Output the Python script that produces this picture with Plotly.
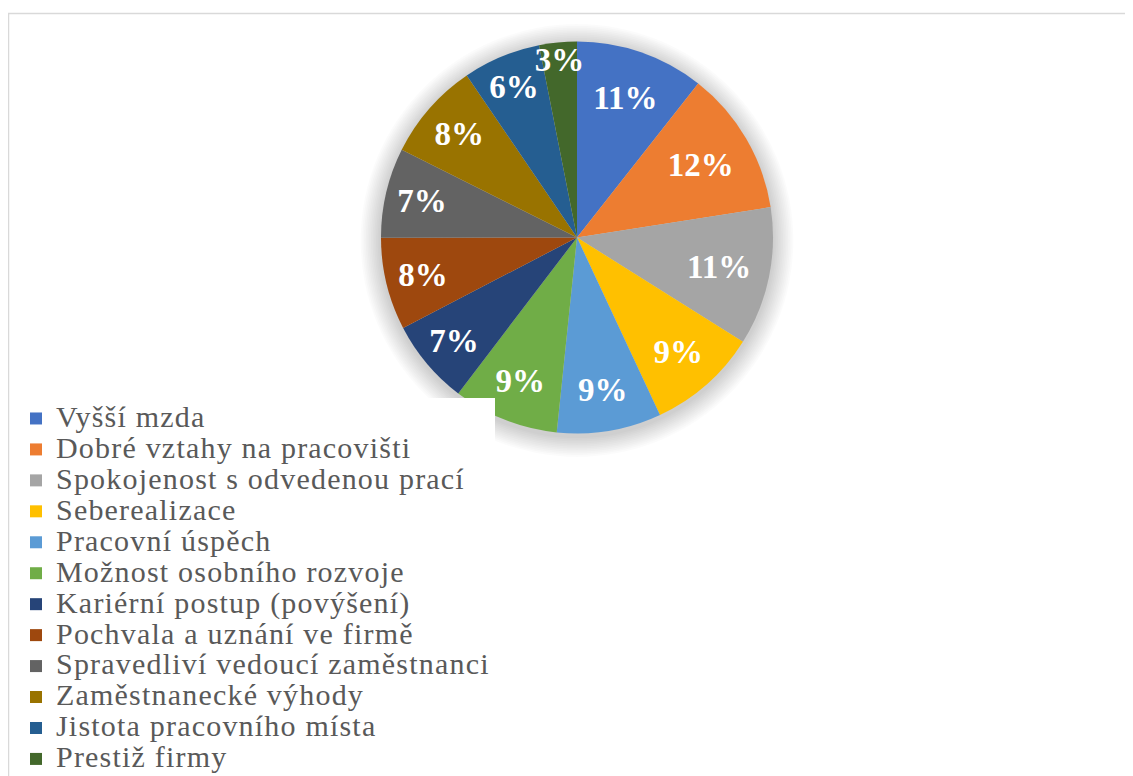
import plotly.graph_objects as go

categories = [
    "Vyšší mzda",
    "Dobré vztahy na pracovišti",
    "Spokojenost s odvedenou prací",
    "Seberealizace",
    "Pracovní úspěch",
    "Možnost osobního rozvoje",
    "Kariérní postup (povýšení)",
    "Pochvala a uznání ve firmě",
    "Spravedliví vedoucí zaměstnanci",
    "Zaměstnanecké výhody",
    "Jistota pracovního místa",
    "Prestiž firmy",
]
values = [10.6, 11.9, 11.4, 9.1, 8.6, 8.7, 7.0, 7.6, 7.4, 8.1, 6.4, 3.1]
colors = ["#4472C4", "#ED7D31", "#A5A5A5", "#FFC000", "#5B9BD5", "#70AD47",
          "#264478", "#9E480E", "#636363", "#997300", "#255E91", "#43682B"]

# page has an 8px body margin; work in figure (paper) pixels
W, H = 1125, 768
cx, cy, r = 569, 229.5, 196

legend_names = [
    '<span style="font-size:30px;letter-spacing:1.2px">%s</span>' % c for c in categories
]

fig = go.Figure()
fig.add_trace(go.Pie(
    labels=legend_names,
    values=values,
    sort=False,
    direction="clockwise",
    rotation=0,
    marker=dict(colors=colors, line=dict(width=0)),
    texttemplate="%{percent:.0%}",
    textposition="inside",
    insidetextorientation="horizontal",
    textfont=dict(family="Liberation Serif", size=33, color="white", weight="bold"),
    hoverinfo="label+percent",
    domain=dict(x=[(cx - r) / W, (cx + r) / W], y=[(H - cy - r) / H, (H - cy + r) / H]),
))

shapes = []
# soft shadow around the pie
for i in range(12, 0, -1):
    rr = r + i * 1.7
    shapes.append(dict(
        type="circle", xref="paper", yref="paper", layer="below",
        x0=(cx - rr) / W, x1=(cx + rr) / W,
        y0=(H - cy - rr - 3) / H, y1=(H - cy + rr - 3) / H,
        fillcolor="rgba(0,0,0,0.017)", line=dict(width=0),
    ))
# chart area border
shapes.append(dict(
    type="rect", xref="paper", yref="paper", layer="below",
    x0=0.5 / W, x1=1.05, y0=-0.05, y1=(H - 5.5) / H,
    line=dict(color="#D9D9D9", width=1.5), fillcolor="rgba(0,0,0,0)",
))

fig.update_layout(
    width=W, height=H,
    margin=dict(l=0, r=0, t=0, b=0, autoexpand=False),
    paper_bgcolor="white",
    plot_bgcolor="white",
    shapes=shapes,
    showlegend=True,
    uniformtext=dict(minsize=33, mode="show"),
    legend=dict(
        x=8 / W, y=(H - 390) / H, xanchor="left", yanchor="top",
        bgcolor="white",
        font=dict(family="Liberation Serif", size=21.5, color="#595959"),
        traceorder="normal",
        itemclick=False,
    ),
)

fig.write_html("out.html")
